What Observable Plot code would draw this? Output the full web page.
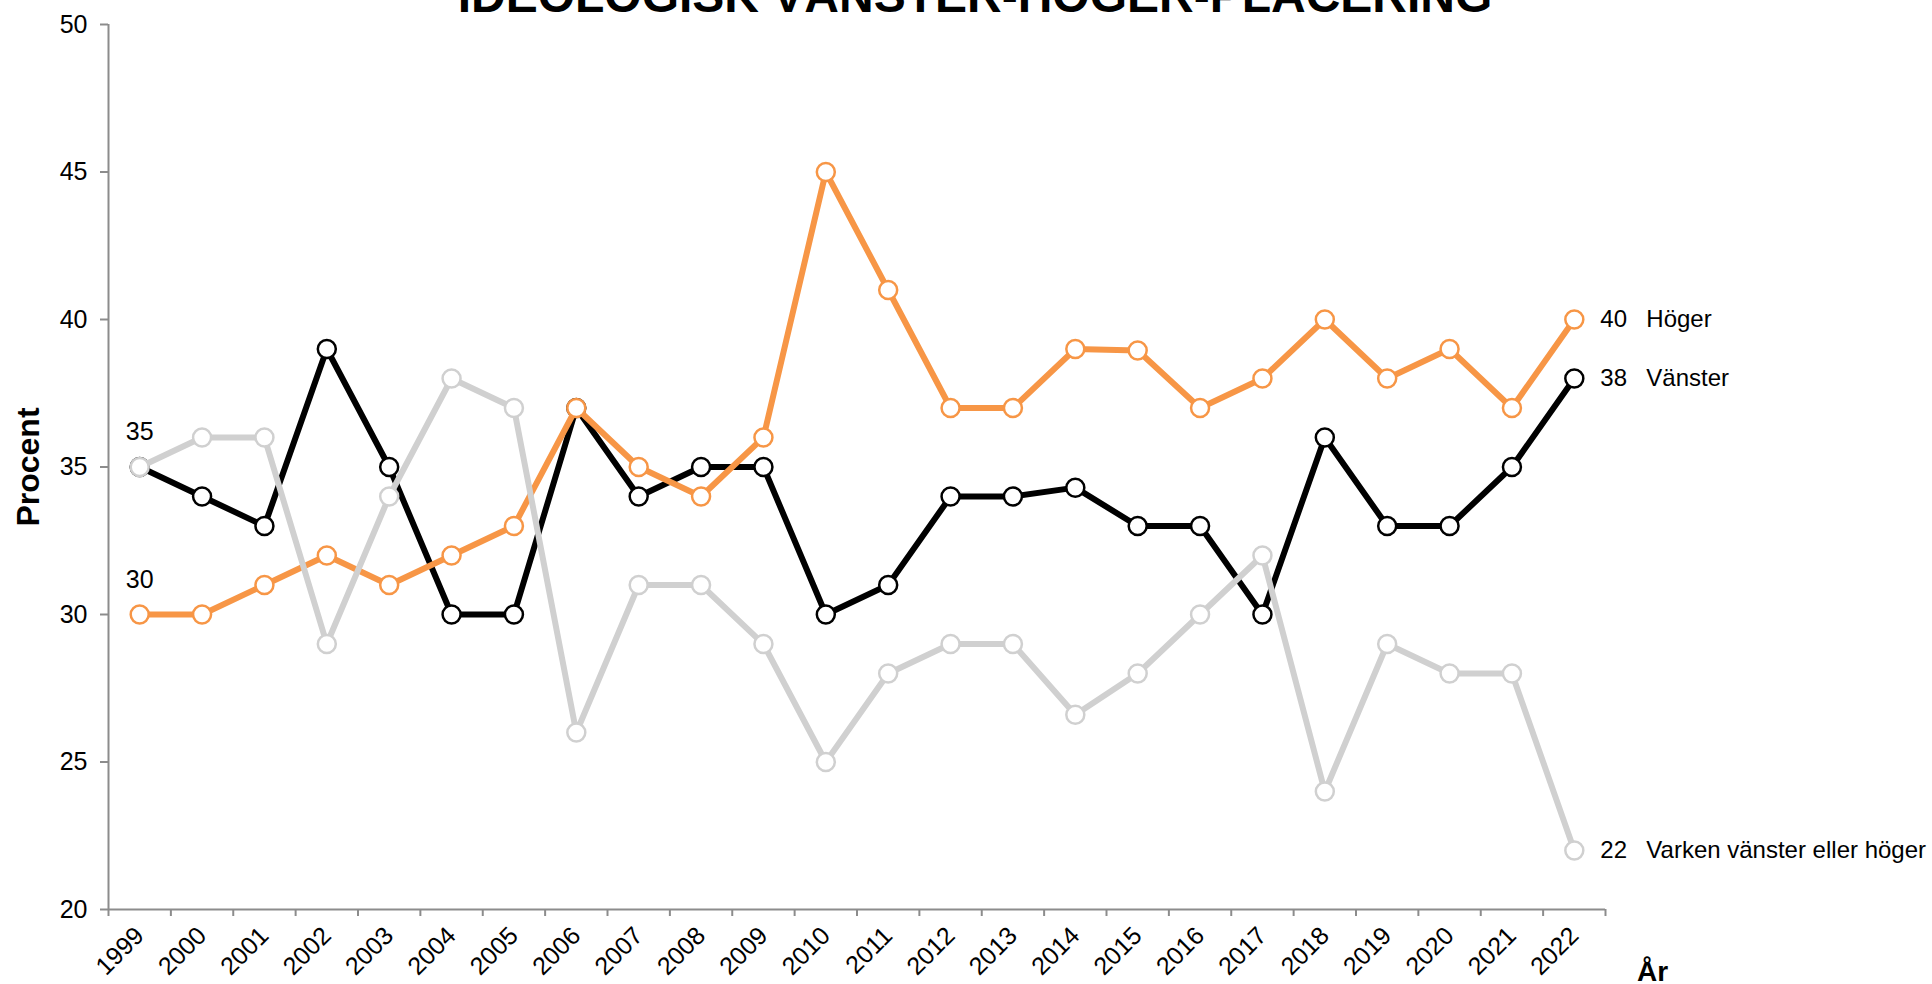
<!DOCTYPE html>
<html>
<head>
<meta charset="utf-8">
<script src="https://cdn.jsdelivr.net/npm/d3@7"></script>
<script src="https://cdn.jsdelivr.net/npm/@observablehq/plot@0.6"></script>
<style>
  html, body { margin: 0; padding: 0; background: #fff; overflow: hidden; }
  #wrap { position: relative; width: 1932px; height: 984px; overflow: hidden; font-family: "Liberation Sans", Arial, sans-serif; }
  #title { position: absolute; left: 0; width: 1950px; top: -28px; text-align: center; font-size: 48px; line-height: 48px; font-weight: bold; color: #000; white-space: nowrap; }
  #chart svg { display: block; }
  g[aria-label="y-axis label"] text { font-size: 32px; font-weight: bold; fill: #000; }
</style>
</head>
<body>
<div id="wrap">
  <div id="chart"></div>
  <div id="title">IDEOLOGISK VÄNSTER-HÖGER-PLACERING</div>
</div>
<script>
const years = [1999, 2000, 2001, 2002, 2003, 2004, 2005, 2006, 2007, 2008, 2009, 2010, 2011, 2012, 2013, 2014, 2015, 2016, 2017, 2018, 2019, 2020, 2021, 2022];
const vanster = [35, 34, 33, 39, 35, 30, 30, 37, 34, 35, 35, 30, 31, 34, 34, 34.3, 33, 33, 30, 36, 33, 33, 35, 38];
const hoger   = [30, 30, 31, 32, 31, 32, 33, 37, 35, 34, 36, 45, 41, 37, 37, 39, 38.95, 37, 38, 40, 38, 39, 37, 40];
const varken  = [35, 36, 36, 29, 34, 38, 37, 26, 31, 31, 29, 25, 28, 29, 29, 26.6, 28, 30, 32, 24, 29, 28, 28, 22];
const seriesNames = ["Vänster", "Höger", "Varken vänster eller höger"];
const seriesColors = ["#000000", "#F79646", "#D0D0D0"];
const yTicks = [20, 25, 30, 35, 40, 45, 50];
const startLabels = [{series: "Varken vänster eller höger", text: "35"}, {series: "Höger", text: "30"}];

const valuesBySeries = [vanster, hoger, varken];
const rows = [];
seriesNames.forEach((s, i) => years.forEach((yr, j) => rows.push({series: s, year: yr, value: valuesBySeries[i][j]})));
const lastRows = seriesNames.map((s, i) => ({series: s, year: years[years.length - 1], value: valuesBySeries[i][years.length - 1]}));
const firstRows = startLabels.map(d => {
  const i = seriesNames.indexOf(d.series);
  return {series: d.series, year: years[0], value: valuesBySeries[i][0], text: d.text};
});
const boundaries = years.map(y => y - 0.5).concat([years[years.length - 1] + 0.5]);
const xDomain = [boundaries[0], boundaries[boundaries.length - 1]];

const marks = [
  Plot.ruleY([yTicks[0]], {stroke: "#8c8c8c", strokeWidth: 2}),
  Plot.ruleX([xDomain[0]], {stroke: "#8c8c8c", strokeWidth: 2}),
  Plot.axisY({ticks: yTicks, tickSize: 8, tickPadding: 13, fontSize: 25, stroke: "#8c8c8c", strokeWidth: 2, label: "Procent", labelAnchor: "center", labelArrow: "none", labelOffset: 92}),
  Plot.axisX({ticks: years, tickSize: 0, tickPadding: 22, tickRotate: -45, fontSize: 25, tickFormat: d => String(d), label: null}),
  Plot.axisX(boundaries, {tickSize: 7, stroke: "#8c8c8c", strokeWidth: 2, text: null, label: null}),
];
seriesNames.forEach((s, i) => {
  const d = rows.filter(r => r.series === s);
  marks.push(Plot.line(d, {x: "year", y: "value", stroke: seriesColors[i], strokeWidth: 6}));
  marks.push(Plot.dot(d, {x: "year", y: "value", r: 9, fill: "#fff", stroke: seriesColors[i], strokeWidth: 2.5}));
});
marks.push(
  Plot.text(firstRows, {x: "year", y: "value", text: "text", dy: -35, fontSize: 25, fill: "#000"}),
  Plot.text(lastRows, {x: "year", y: "value", text: d => String(d.value), textAnchor: "start", dx: 26, fontSize: 24, fill: "#000"}),
  Plot.text(lastRows, {x: "year", y: "value", text: "series", textAnchor: "start", dx: 72, fontSize: 24, fill: "#000"}),
  Plot.text(["År"], {frameAnchor: "bottom-right", lineAnchor: "bottom", textAnchor: "middle", dx: 47, dy: 71, fontSize: 28, fontWeight: "bold", fill: "#000"})
);

const chart = Plot.plot({
  width: 1932,
  height: 984,
  marginLeft: 108,
  marginRight: 327,
  marginTop: 24,
  marginBottom: 75,
  style: {fontFamily: "'Liberation Sans', Arial, sans-serif", color: "#000", background: "#fff", overflow: "visible"},
  x: {type: "linear", domain: xDomain},
  y: {domain: [yTicks[0], yTicks[yTicks.length - 1]]},
  marks
});
document.getElementById("chart").appendChild(chart);
</script>
</body>
</html>
